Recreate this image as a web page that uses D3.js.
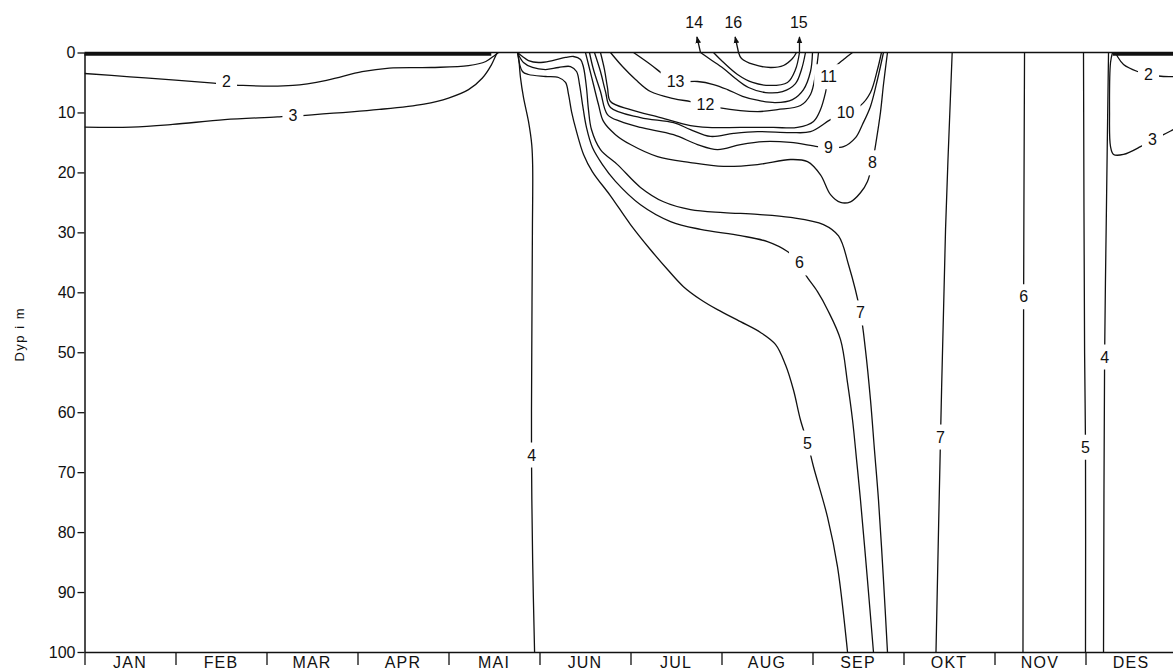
<!DOCTYPE html>
<html>
<head>
<meta charset="utf-8">
<script src="https://cdn.jsdelivr.net/npm/d3@7"></script>
<style>
  body { margin: 0; background: #fff; }
  svg { display: block; font-family: "Liberation Sans", Arial, sans-serif; }
</style>
</head>
<body>
<svg id="chart"></svg>
<script>
// Month names and depth ticks
const months = ["JAN", "FEB", "MAR", "APR", "MAI", "JUN", "JUL", "AUG", "SEP", "OKT", "NOV", "DES"];
const monthEdges = [0, 1, 2, 3, 4, 5, 6, 7, 8, 9, 10, 11, 12];
const depthTicks = [0, 10, 20, 30, 40, 50, 60, 70, 80, 90, 100];

// Isotherms, points are [month (0 = 1 Jan), depth in m]
const iso2Winter = [[0, 3.5], [0.5, 4.05], [1.0, 4.6], [1.42, 5.1], [1.74, 5.5], [2.29, 5.5], [2.67, 4.6], [3.05, 3.2], [3.35, 2.6], [3.81, 2.5], [4.22, 2.2], [4.41, 1.5], [4.51, 0.45], [4.55, 0]];
const iso3Winter = [[0, 12.45], [0.515, 12.45], [0.97, 12.0], [1.54, 11.2], [2.12, 10.75], [2.5, 10.4], [3.24, 9.5], [3.73, 8.6], [4.0, 7.6], [4.22, 6.2], [4.37, 4.3], [4.47, 2.1], [4.53, 0.2], [4.54, 0]];
const iso4Spring = [[4.758, 0], [4.77, 0.8], [4.791, 4.2], [4.824, 7.5], [4.879, 11.5], [4.915, 15.4], [4.925, 19], [4.922, 30], [4.915, 50], [4.912, 67], [4.925, 85], [4.946, 100]];
const iso5 = [[4.758, 0], [4.813, 3.17], [4.879, 3.67], [5.066, 4.0], [5.209, 4.17], [5.286, 5.0], [5.319, 7.0], [5.352, 9.85], [5.407, 13.2], [5.484, 17.0], [5.582, 19.9], [5.78, 23.9], [6.0, 28.7], [6.22, 32.9], [6.407, 36.2], [6.582, 39.06], [6.769, 41.2], [6.956, 42.9], [7.209, 44.9], [7.429, 46.7], [7.593, 48.7], [7.703, 52.1], [7.791, 56.3], [7.868, 61.3], [7.945, 65.1], [8.011, 69.1], [8.165, 77.5], [8.275, 85.8], [8.385, 100]];
const iso6 = [[4.758, 0], [4.824, 1.67], [4.923, 2.5], [5.066, 2.84], [5.209, 2.5], [5.341, 2.34], [5.407, 3.17], [5.44, 5.34], [5.473, 8.68], [5.516, 12.5], [5.582, 15.86], [5.692, 18.7], [5.835, 21.5], [6.11, 25.4], [6.44, 28.2], [6.769, 29.5], [7.209, 30.55], [7.505, 31.55], [7.725, 33.2], [7.857, 35.06], [7.923, 37.06], [8.055, 39.9], [8.165, 42.9], [8.308, 47.9], [8.385, 55.1], [8.44, 61.3], [8.484, 67.9], [8.527, 74.6], [8.604, 88.0], [8.67, 100]];
const iso7 = [[4.758, 0], [4.813, 0.67], [4.879, 1.34], [4.989, 1.67], [5.143, 1.34], [5.286, 0.83], [5.374, 0.67], [5.451, 1.17], [5.484, 2.5], [5.516, 5.84], [5.538, 9.52], [5.571, 12.85], [5.67, 16.2], [5.857, 18.7], [6.11, 22.5], [6.363, 24.9], [6.659, 26.2], [7.022, 26.7], [7.396, 27.0], [7.758, 27.5], [8.121, 28.7], [8.286, 30.6], [8.396, 35.4], [8.527, 43.4], [8.582, 49.6], [8.637, 57.9], [8.681, 66.3], [8.725, 74.6], [8.78, 88.0], [8.824, 100]];
const iso8 = [[5.505, 0], [5.538, 2.0], [5.593, 5.34], [5.648, 8.68], [5.703, 11.5], [5.835, 13.7], [6.0, 15.35], [6.297, 17.36], [6.659, 18.36], [7.022, 19.0], [7.396, 18.7], [7.758, 17.85], [7.945, 18.2], [8.088, 20.4], [8.198, 23.7], [8.308, 25.0], [8.418, 24.9], [8.527, 23.4], [8.604, 21.5], [8.659, 18.36], [8.703, 14.5], [8.747, 10.0], [8.78, 5.34], [8.824, 0]];
const iso9 = [[5.549, 0], [5.593, 2.84], [5.67, 6.5], [5.747, 10.35], [5.89, 11.5], [6.11, 12.5], [6.473, 13.7], [6.736, 15.35], [6.956, 16.2], [7.209, 15.35], [7.462, 14.85], [7.758, 15.0], [8.055, 15.7], [8.176, 15.86], [8.341, 15.7], [8.473, 14.2], [8.549, 12.0], [8.637, 9.0], [8.714, 4.5], [8.78, 0]];
const iso10 = [[5.604, 0], [5.67, 3.17], [5.725, 6.5], [5.78, 9.18], [6.11, 10.85], [6.473, 11.7], [6.659, 12.85], [6.879, 14.0], [7.132, 13.5], [7.396, 13.2], [7.758, 13.35], [7.978, 13.2], [8.198, 11.2], [8.363, 10.0], [8.527, 8.85], [8.637, 6.68], [8.714, 2.84], [8.758, 0]];
const iso11 = [[5.67, 0], [5.714, 2.84], [5.747, 5.84], [5.78, 8.18], [6.0, 9.52], [6.33, 10.85], [6.659, 12.2], [6.846, 12.5], [7.209, 12.5], [7.571, 12.5], [7.835, 12.5], [8.011, 11.5], [8.088, 9.52], [8.143, 6.68], [8.176, 4.0], [8.253, 2.34], [8.341, 1.17], [8.44, 0]];
const iso12 = [[5.78, 0], [5.912, 2.34], [6.055, 4.5], [6.22, 6.51], [6.473, 7.68], [6.659, 8.18], [6.824, 8.68], [6.967, 9.18], [7.396, 9.85], [7.615, 9.52], [7.868, 8.85], [7.978, 7.0], [8.033, 3.67], [8.066, 0]];
const iso13 = [[6.033, 0], [6.22, 2.0], [6.407, 4.17], [6.495, 4.84], [6.736, 4.84], [6.912, 5.34], [7.066, 6.18], [7.231, 7.3], [7.407, 8.0], [7.593, 8.35], [7.78, 7.85], [7.901, 6.18], [7.978, 3.17], [8.0, 0]];
const iso14 = [[6.769, 0], [6.879, 1.17], [7.022, 2.67], [7.154, 4.34], [7.297, 5.84], [7.484, 6.68], [7.67, 6.51], [7.813, 5.18], [7.879, 2.84], [7.923, 0]];
const iso15 = [[6.912, 0], [7.011, 1.5], [7.176, 3.67], [7.341, 5.0], [7.538, 5.5], [7.725, 5.0], [7.813, 2.84], [7.857, 0]];
const iso16 = [[7.187, 0], [7.22, 1.0], [7.352, 2.0], [7.538, 2.5], [7.681, 2.17], [7.78, 1.0], [7.824, 0]];
const iso7Autumn = [[9.535, 0], [9.462, 29.5], [9.407, 64.1], [9.357, 100]];
const iso6Autumn = [[10.33, 0], [10.32, 40.7], [10.313, 100]];
const iso5Autumn = [[10.978, 0], [10.99, 50], [11.0, 65.8], [11.0, 100]];
const iso4Autumn = [[11.253, 0], [11.227, 29.5], [11.21, 50.75], [11.198, 100]];
const iso3Dec = [[11.297, 0], [11.275, 1.67], [11.264, 10.0], [11.275, 15.7], [11.308, 17.0], [11.418, 17.0], [11.604, 15.7], [11.736, 14.5], [11.857, 13.7], [11.967, 12.85], [12, 12.6]];
const iso2Dec = [[11.33, 0], [11.352, 0.67], [11.418, 2.0], [11.571, 3.17], [11.692, 3.67], [11.857, 4.0], [12, 4.0]];

// Isotherm labels: [text, month, depth]
const contourLabels = [
  ["2", 1.56, 4.85], ["3", 2.29, 10.5], ["4", 4.915, 67.1], ["5", 7.945, 65.1],
  ["6", 7.857, 35.06], ["7", 8.527, 43.4], ["8", 8.659, 18.36], ["9", 8.176, 15.86],
  ["10", 8.363, 10.0], ["11", 8.176, 4.0], ["12", 6.824, 8.68], ["13", 6.495, 4.84],
  ["7", 9.407, 64.1], ["6", 10.32, 40.7], ["5", 11.0, 65.8], ["4", 11.21, 50.75],
  ["3", 11.736, 14.5], ["2", 11.692, 3.67]
];

// Isotherms leaving the surface: [text, month at surface, month at tip, month of label]
const surfaceArrows = [["14", 6.769, 6.73, 6.70], ["16", 7.187, 7.15, 7.13], ["15", 7.857, 7.857, 7.85]];

// Ice-covered periods (months)
const iceCover = [[0, 4.47], [11.3, 12]];

const isotherms = [iso2Winter, iso3Winter, iso4Spring, iso5, iso6, iso7, iso8, iso9, iso10,
  iso11, iso12, iso13, iso14, iso15, iso16, iso7Autumn, iso6Autumn, iso5Autumn, iso4Autumn, iso3Dec, iso2Dec];

const width = 1173, height = 671;
const ink = "#111";

const x = d3.scaleLinear().domain([0, 12]).range([84.5, 1176.5]);
const y = d3.scaleLinear().domain([0, 100]).range([52.5, 652]);
const xMonth = d3.scaleBand().domain(months).range(x.range());

const svg = d3.select("#chart").attr("width", width).attr("height", height);

svg.append("clipPath").attr("id", "plot")
  .append("rect")
  .attr("x", x(0)).attr("y", y(0))
  .attr("width", width - x(0)).attr("height", y(100) - y(0));

// Isotherm lines
const line = d3.line()
  .x((d) => x(d[0]))
  .y((d) => y(d[1]))
  .curve(d3.curveCatmullRom.alpha(0.5));

svg.append("g")
  .attr("clip-path", "url(#plot)")
  .selectAll("path")
  .data(isotherms)
  .join("path")
  .attr("d", line)
  .attr("fill", "none")
  .attr("stroke", ink)
  .attr("stroke-width", 1.3);

// Surface line and ice cover
svg.append("line")
  .attr("x1", x(0)).attr("x2", x(12))
  .attr("y1", y(0)).attr("y2", y(0))
  .attr("stroke", ink).attr("stroke-width", 1.3);

svg.append("g")
  .selectAll("line")
  .data(iceCover)
  .join("line")
  .attr("x1", (d) => x(d[0])).attr("x2", (d) => x(d[1]))
  .attr("y1", y(0) + 1.5).attr("y2", y(0) + 1.5)
  .attr("stroke", ink).attr("stroke-width", 3.5);

// Y axis
const yAxis = svg.append("g")
  .attr("transform", `translate(${x(0)},0)`)
  .call(d3.axisLeft(y).tickValues(depthTicks).tickSize(7).tickSizeOuter(0).tickPadding(2));
yAxis.attr("font-size", 16).attr("font-family", null);
yAxis.select(".domain").attr("stroke", ink).attr("stroke-width", 1.5);
yAxis.selectAll(".tick line").attr("stroke", ink).attr("stroke-width", 1.3);
yAxis.selectAll(".tick text").attr("fill", ink);

// X axis: month boundaries and names
const xAxis = svg.append("g")
  .attr("transform", `translate(0,${y(100)})`)
  .call(d3.axisBottom(x).tickValues(monthEdges).tickSize(13).tickSizeOuter(0).tickFormat(""));
xAxis.select(".domain").attr("stroke", ink).attr("stroke-width", 1.5);
xAxis.selectAll(".tick line").attr("stroke", ink).attr("stroke-width", 1.3);

const monthAxis = svg.append("g")
  .attr("transform", `translate(0,${y(100)})`)
  .call(d3.axisBottom(xMonth).tickSize(0).tickPadding(5));
monthAxis.select(".domain").remove();
monthAxis.attr("font-size", 16).attr("font-family", null);
monthAxis.selectAll("text").attr("fill", ink).attr("letter-spacing", 1.2);

// Y axis title
svg.append("text")
  .attr("transform", `translate(24,${y(47)}) rotate(-90)`)
  .attr("text-anchor", "middle")
  .attr("font-size", 13)
  .attr("letter-spacing", 1.5)
  .attr("fill", ink)
  .text("Dyp i m");

// Isotherm labels with a gap in the line
const labels = svg.append("g")
  .selectAll("g")
  .data(contourLabels)
  .join("g")
  .attr("transform", (d) => `translate(${x(d[1])},${y(d[2])})`);
labels.append("rect").attr("fill", "#fff");
labels.append("text")
  .attr("text-anchor", "middle")
  .attr("dy", "0.36em")
  .attr("font-size", 16)
  .attr("fill", ink)
  .text((d) => d[0]);
labels.each(function () {
  const g = d3.select(this);
  const b = g.select("text").node().getBBox();
  g.select("rect")
    .attr("x", b.x - 6).attr("y", b.y - 4)
    .attr("width", b.width + 12).attr("height", b.height + 8);
});

// Arrows for isotherms that leave the surface
svg.append("defs").append("marker")
  .attr("id", "head")
  .attr("viewBox", "0 0 10 10")
  .attr("refX", 9).attr("refY", 5)
  .attr("markerWidth", 7).attr("markerHeight", 7)
  .attr("markerUnits", "userSpaceOnUse")
  .attr("orient", "auto")
  .append("path")
  .attr("d", "M0,1 L10,5 L0,9 Z")
  .attr("fill", ink);

const arrows = svg.append("g").selectAll("g").data(surfaceArrows).join("g");
arrows.append("line")
  .attr("x1", (d) => x(d[1])).attr("y1", y(0))
  .attr("x2", (d) => x(d[2])).attr("y2", y(-2.6))
  .attr("stroke", ink).attr("stroke-width", 1.3)
  .attr("marker-end", "url(#head)");
arrows.append("text")
  .attr("x", (d) => x(d[3]))
  .attr("y", y(-4.1))
  .attr("text-anchor", "middle")
  .attr("font-size", 16)
  .attr("fill", ink)
  .text((d) => d[0]);
</script>
</body>
</html>
